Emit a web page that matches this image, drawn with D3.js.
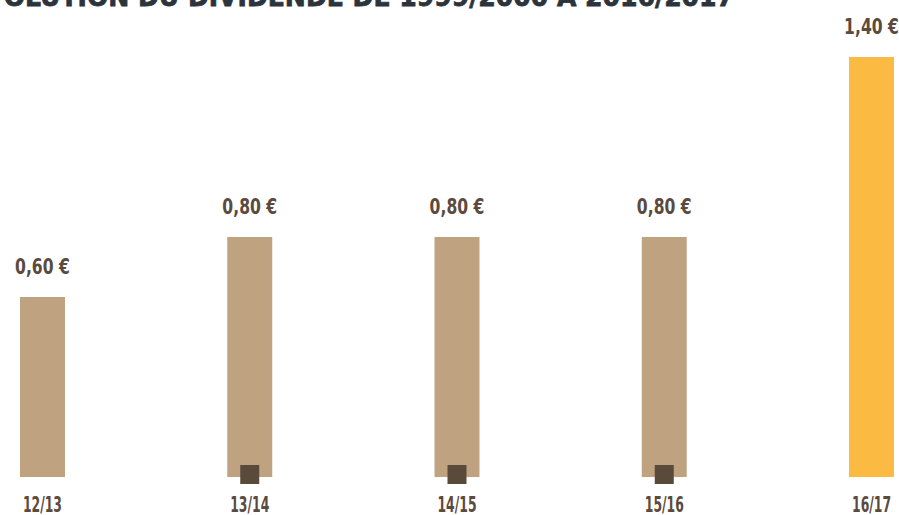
<!DOCTYPE html>
<html>
<head>
<meta charset="utf-8">
<script src="https://cdn.jsdelivr.net/npm/d3@7"></script>
<style>
  html, body { margin: 0; padding: 0; background: #ffffff; }
  svg { display: block; }
</style>
</head>
<body>
<svg id="chart" width="899" height="515"></svg>
<script>
// Dividend per share, fiscal years 2012/13 to 2016/17
const seasons = ["12/13", "13/14", "14/15", "15/16", "16/17"];
const dividends = [0.60, 0.80, 0.80, 0.80, 1.40];
const markedSeasons = ["13/14", "14/15", "15/16"];
const valueLabels = ["0,60 €", "0,80 €", "0,80 €", "0,80 €", "1,40 €"];
const title = "ÉVOLUTION DU DIVIDENDE DE 1999/2000 À 2016/2017";

const svg = d3.select("#chart");
const font = "'DejaVu Sans', sans-serif";

const x = d3.scaleBand()
  .domain(seasons)
  .range([20, 894])
  .paddingInner(0.783)
  .paddingOuter(0);

const y = d3.scaleLinear()
  .domain([0, 1.4])
  .range([477, 57]);

// Title, running off the top edge
svg.append("text")
  .attr("transform", "translate(734,6) scale(0.93,1)")
  .attr("text-anchor", "end")
  .attr("fill", "#2b343c")
  .attr("stroke", "#2b343c")
  .attr("stroke-width", 0.8)
  .style("font-family", font)
  .style("font-weight", "bold")
  .style("font-size", "27px")
  .text(title);

const data = seasons.map((s, i) => ({ season: s, value: dividends[i], label: valueLabels[i] }));

svg.selectAll("rect.bar")
  .data(data)
  .join("rect")
  .attr("class", "bar")
  .attr("x", d => x(d.season))
  .attr("y", d => y(d.value))
  .attr("width", x.bandwidth())
  .attr("height", d => y(0) - y(d.value))
  .attr("fill", (d, i) => i === data.length - 1 ? "#fbbb42" : "#bfa280");

// Small markers at the foot of the middle bars
const mark = 19;
svg.selectAll("rect.mark")
  .data(markedSeasons)
  .join("rect")
  .attr("class", "mark")
  .attr("x", d => x(d) + x.bandwidth() / 2 - mark / 2)
  .attr("y", y(0) - 12)
  .attr("width", mark)
  .attr("height", mark)
  .attr("fill", "#5a4a3a");

// Condensed labels: horizontally squeezed bold text
svg.selectAll("text.value")
  .data(data)
  .join("text")
  .attr("class", "value")
  .attr("transform", d => `translate(${x(d.season) + x.bandwidth() / 2},${y(d.value) - 23}) scale(0.71,1)`)
  .attr("text-anchor", "middle")
  .attr("fill", "#5b4a3e")
  .style("font-family", font)
  .style("font-weight", "bold")
  .style("font-size", "22px")
  .text(d => d.label);

svg.selectAll("text.season")
  .data(seasons)
  .join("text")
  .attr("class", "season")
  .attr("transform", d => `translate(${x(d) + x.bandwidth() / 2},512) scale(0.59,1)`)
  .attr("text-anchor", "middle")
  .attr("fill", "#5b4a3e")
  .style("font-family", font)
  .style("font-weight", "bold")
  .style("font-size", "21px")
  .text(d => d);
</script>
</body>
</html>
